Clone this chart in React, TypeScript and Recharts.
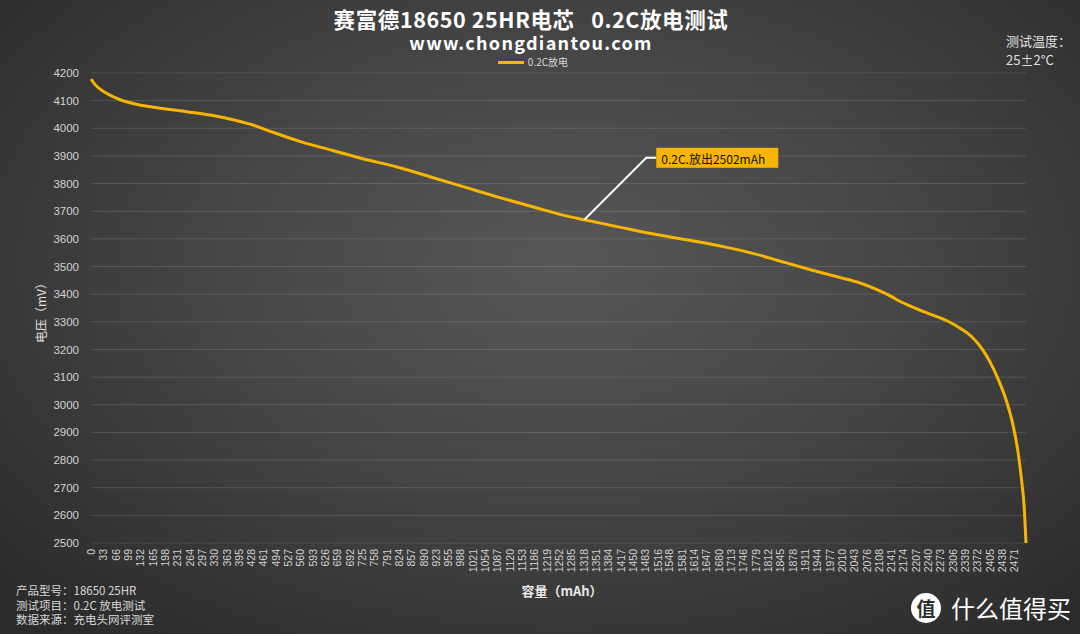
import { CartesianGrid, Line, LineChart, ReferenceDot, XAxis, YAxis } from 'recharts'

const capacity = [
  0, 11, 37, 73, 118, 163, 252, 323, 386, 431, 484, 565, 649, 730, 819, 909, 998, 1087, 1177,
  1266, 1320, 1427, 1516, 1605, 1695, 1784, 1838, 1918, 2007, 2052, 2097, 2141, 2159, 2204, 2249,
  2293, 2329, 2356, 2383, 2405, 2428, 2450, 2468, 2481, 2490, 2497, 2502,
]
const voltage = [
  4178, 4158, 4130, 4106, 4088, 4077, 4061, 4047, 4029, 4013, 3987, 3950, 3919, 3889, 3860, 3824,
  3788, 3752, 3718, 3685, 3669, 3639, 3615, 3594, 3571, 3543, 3522, 3491, 3459, 3443, 3420, 3392,
  3378, 3350, 3326, 3302, 3274, 3247, 3205, 3157, 3091, 3012, 2922, 2826, 2729, 2633, 2500,
]
const xTicks = [
  0, 33, 66, 99, 132, 165, 198, 231, 264, 297, 330, 363, 395, 428, 461, 494, 527, 560, 593, 626,
  659, 692, 725, 758, 791, 824, 857, 890, 923, 955, 988, 1021, 1054, 1087, 1120, 1153, 1186, 1219,
  1252, 1285, 1318, 1351, 1384, 1417, 1450, 1483, 1516, 1548, 1581, 1614, 1647, 1680, 1713, 1746,
  1779, 1812, 1845, 1878, 1911, 1944, 1977, 2010, 2043, 2076, 2108, 2141, 2174, 2207, 2240, 2273,
  2306, 2339, 2372, 2405, 2438, 2471,
]
const yTicks = [
  2500, 2600, 2700, 2800, 2900, 3000, 3100, 3200, 3300, 3400, 3500, 3600, 3700, 3800, 3900, 4000,
  4100, 4200,
]
const seriesName = '0.2C放电'
const callout = { cap: 1320, v: 3669, text: '0.2C.放出2502mAh' }

const data = capacity.map((c, i) => ({ cap: c, v: voltage[i] }))

const CJK = '"Noto Sans CJK SC", "Noto Sans", sans-serif'
const NUM = '"Liberation Sans", Arial, "Noto Sans CJK SC", sans-serif'
const GOLD = '#f7b500'

function XTick({ x, y, payload }: any) {
  return (
    <g transform={`translate(${x},${y - 2}) rotate(-90)`}>
      <text x={0} y={0} textAnchor="end" dominantBaseline="central" fill="#d2d2d2" fontSize={10.5} fontFamily={NUM}>
        {payload.value}
      </text>
    </g>
  )
}

function Callout({ cx, cy }: any) {
  const bx = cx + 72
  const by = cy - 62
  return (
    <g>
      <polyline points={`${cx},${cy} ${cx + 62},${by} ${bx},${by}`} fill="none" stroke="#fff" strokeWidth={2} />
      <rect x={bx} y={by - 10} width={122} height={20} fill={GOLD} />
      <text x={bx + 5} y={by + 1} dominantBaseline="central" fontSize={12} fill="#111" fontFamily={CJK}>
        {callout.text}
      </text>
    </g>
  )
}

export default function App() {
  const head = { position: 'absolute' as const, left: 0, width: 1062, textAlign: 'center' as const, color: '#fff', fontWeight: 700 }
  return (
    <div
      style={{
        position: 'absolute',
        left: 0,
        top: 0,
        width: 1080,
        height: 634,
        overflow: 'hidden',
        background: 'radial-gradient(ellipse 70% 75% at 52% 42%, #575757 0%, #464646 45%, #2b2b2b 100%)',
        fontFamily: CJK,
      }}
    >
      <div style={{ ...head, top: 7, fontSize: 21.5, lineHeight: '23px', letterSpacing: 0.6 }}>
        赛富德18650 25HR电芯&nbsp;&nbsp;&nbsp;0.2C放电测试
      </div>
      <div style={{ ...head, top: 32, fontSize: 18, lineHeight: '20px', letterSpacing: 1.3 }}>www.chongdiantou.com</div>
      <div style={{ position: 'absolute', top: 54, left: 0, width: 1062, display: 'flex', justifyContent: 'center', alignItems: 'center', gap: 4 }}>
        <span style={{ width: 26, height: 3, background: GOLD, display: 'inline-block', marginLeft: 4 }} />
        <span style={{ fontSize: 10, lineHeight: '16px', color: '#d8d8d8' }}>{seriesName}</span>
      </div>
      <div style={{ position: 'absolute', top: 31, left: 1006, color: '#e0e0e0', fontSize: 13, lineHeight: '19px' }}>
        <div>测试温度：</div>
        <div>25±2°C</div>
      </div>

      <div style={{ position: 'absolute', left: 0, top: 0 }}>
        <LineChart width={1080} height={634} data={data} margin={{ top: 73, right: 54, left: 0, bottom: 51 }}>
          <CartesianGrid vertical={false} stroke="rgba(255,255,255,0.13)" />
          <XAxis
            type="number"
            dataKey="cap"
            domain={[0, 2502]}
            ticks={xTicks}
            interval={0}
            tick={<XTick />}
            tickLine={false}
            axisLine={false}
            height={40}
          />
          <YAxis
            type="number"
            domain={[2500, 4200]}
            ticks={yTicks}
            interval={0}
            width={91}
            tickLine={false}
            axisLine={false}
            tickMargin={6}
            tick={{ fill: '#d2d2d2', fontSize: 11.5, fontFamily: NUM }}
          />
          <Line
            type="monotone"
            dataKey="v"
            name={seriesName}
            stroke={GOLD}
            strokeWidth={3}
            dot={false}
            isAnimationActive={false}
          />
          <ReferenceDot x={callout.cap} y={callout.v} r={0} shape={<Callout />} />
        </LineChart>
      </div>

      <div
        style={{
          position: 'absolute',
          left: 40,
          top: 310,
          transform: 'translate(-50%,-50%) rotate(-90deg)',
          color: '#e0e0e0',
          fontSize: 12,
          whiteSpace: 'nowrap',
        }}
      >
        电压（mV）
      </div>
      <div style={{ position: 'absolute', top: 581, width: 1080, left: 22, textAlign: 'center', color: '#e8e8e8', fontSize: 13, fontWeight: 700 }}>
        容量（mAh）
      </div>
      <div style={{ position: 'absolute', left: 16, top: 583, color: '#d8d8d8', fontSize: 11.5, lineHeight: '14.5px' }}>
        <div>产品型号：18650 25HR</div>
        <div>测试项目：0.2C 放电测试</div>
        <div>数据来源：充电头网评测室</div>
      </div>
      <div style={{ position: 'absolute', left: 911, top: 590, display: 'flex', alignItems: 'center' }}>
        <div
          style={{
            width: 30,
            height: 30,
            borderRadius: 15,
            background: '#fff',
            color: '#2e2e2e',
            fontSize: 19,
            fontWeight: 700,
            display: 'flex',
            alignItems: 'center',
            justifyContent: 'center',
          }}
        >
          值
        </div>
        <div style={{ marginLeft: 10, color: '#fff', fontSize: 24 }}>什么值得买</div>
      </div>
    </div>
  )
}
